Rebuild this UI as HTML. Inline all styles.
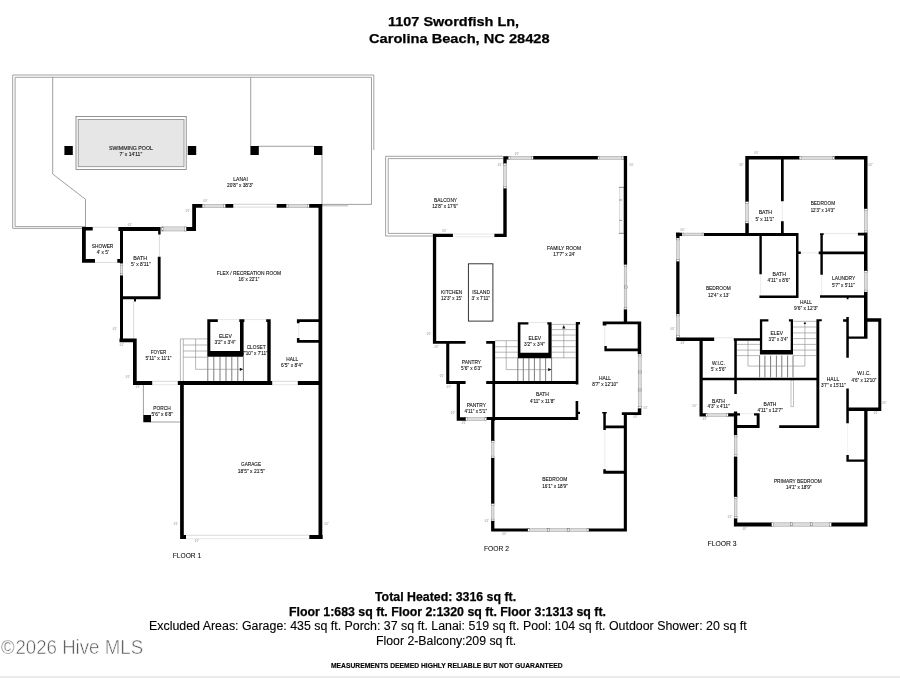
<!DOCTYPE html>
<html><head><meta charset="utf-8"><title>Floor plan</title>
<style>
html,body{margin:0;padding:0;background:#fff;}
body{width:900px;height:678px;position:relative;overflow:hidden;font-family:"Liberation Sans",sans-serif;color:#111;}
.t{will-change:transform;position:absolute;white-space:nowrap;line-height:1;transform-origin:0 0;}
.b{font-weight:bold;color:#000;-webkit-text-stroke:0.25px #000;}
.f{font-size:12.3px;}
.r{color:#000;-webkit-text-stroke:0.12px #000;}
</style></head><body>
<div class="t b" style="left:387.8px;top:14.6px;font-size:13.2px;transform:scaleX(1.0975);">1107 Swordfish Ln,</div>
<div class="t b" style="left:369.3px;top:32.1px;font-size:13.2px;transform:scaleX(1.110);">Carolina Beach, NC 28428</div>
<svg width="900" height="678" viewBox="0 0 900 678" style="position:absolute;left:0;top:0;will-change:transform">
<path d="M373.8 150V75H12.7V228.4H85.5" fill="none" stroke="#8c8c8c" stroke-width="0.8"/>
<path d="M371.5 204.4V77.3H15.1V226.6H85.5" fill="none" stroke="#8c8c8c" stroke-width="0.8"/>
<path d="M52.7 77.3V174L85.5 199.3V227" fill="none" stroke="#777" stroke-width="0.7"/>
<path d="M250.7 77.3V146" fill="none" stroke="#777" stroke-width="0.7"/>
<path d="M258 146.3H314" fill="none" stroke="#777" stroke-width="0.7"/>
<path d="M322 155V204.4H371.5" fill="none" stroke="#777" stroke-width="0.7"/>
<path d="M322 205.8H348" fill="none" stroke="#999" stroke-width="0.7"/>
<rect x="76" y="116.4" width="110.2" height="53.1" fill="#fff" stroke="#777" stroke-width="0.8"/>
<rect x="78.2" y="119.4" width="105.8" height="47.3" fill="#e6e6e6" stroke="#8a8a8a" stroke-width="0.8"/>
<path d="M180.4 381V338.9H207.3M183.3 381V338.9M183.3 345H207.3M183.3 351H207.3M183.3 357.2H207.3" fill="none" stroke="#888" stroke-width="0.6"/>
<path d="M207.8 357V381M213.8 357V381M220 357V381M226 357V381M231.8 357V381M237.8 357V381M243.4 357V381" fill="none" stroke="#444" stroke-width="0.7"/>
<path d="M195.6 339V369.3H241" fill="none" stroke="#888" stroke-width="0.6"/>
<path d="M239.8 367.7L243.2 369.3L239.8 370.9Z" fill="#111"/>
<path d="M503.3 156.3H385.6V236H433" fill="none" stroke="#8c8c8c" stroke-width="0.8"/>
<path d="M503.3 158.6H388.2V233.4H433" fill="none" stroke="#8c8c8c" stroke-width="0.8"/>
<rect x="619.4" y="187.3" width="4.4" height="46" fill="#f7f7f7" stroke="#c4c4c4" stroke-width="0.5"/>
<path d="M618.8 187.3H623.8M618.8 233.3H623.8M619.2 200H622M619.2 220.4H622" stroke="#555" stroke-width="0.6"/>
<rect x="468.4" y="263.8" width="24.5" height="57.3" fill="#fff" stroke="#222" stroke-width="0.9"/>
<path d="M551.6 324.4H575.6M551.6 329.6H575.6M551.6 335.1H575.6M551.6 340.7H575.6M551.6 346.7H575.6M551.6 352.2H575.6M551.6 357.8H575.6M495.1 340.7H517.8M495.1 346.7H517.8M495.1 352.2H517.8M495.1 357.8H517.8" fill="none" stroke="#888" stroke-width="0.6"/>
<path d="M517.8 358V381M523.3 358V381M528.9 358V381M534.4 358V381M540 358V381M545.6 358V381M551.6 358V381" fill="none" stroke="#444" stroke-width="0.7"/>
<path d="M506.2 340.7V369.6H549.5" fill="none" stroke="#888" stroke-width="0.6"/>
<path d="M548.2 368L551.6 369.6L548.2 371.2Z" fill="#111"/>
<path d="M563.8 358V327.5" fill="none" stroke="#888" stroke-width="0.6"/>
<path d="M562.2 328.4L563.8 325L565.4 328.4Z" fill="#111"/>
<rect x="791" y="380" width="2.6" height="26.8" fill="#fff" stroke="#999" stroke-width="0.6"/>
<path d="M793 321.3H816.4M793 327H816.4M793 332.9H816.4M793 338.6H816.4M793 344.4H816.4M793 350.1H816.4M793 355.6H816.4M736.8 344.4H759.9M736.8 350.1H759.9M736.8 355.6H759.9" fill="none" stroke="#888" stroke-width="0.6"/>
<path d="M759.6 355.6V377.3M764.9 355.6V377.3M770.6 355.6V377.3M776.4 355.6V377.3M781.8 355.6V377.3M787.6 355.6V377.3M793 355.6V377.3" fill="none" stroke="#444" stroke-width="0.7"/>
<path d="M748 340.5V366.1H804.9V325" fill="none" stroke="#888" stroke-width="0.6"/>
<circle cx="804.9" cy="323.3" r="1.1" fill="#111"/>
<line x1="92.7" y1="227.3" x2="118.4" y2="227.3" stroke="#ccc" stroke-width="0.7"/>
<line x1="95" y1="262.4" x2="117.3" y2="262.4" stroke="#ccc" stroke-width="0.7"/>
<line x1="233.3" y1="204.3" x2="276.7" y2="204.3" stroke="#bbb" stroke-width="0.7"/>
<line x1="233.3" y1="207.1" x2="276.7" y2="207.1" stroke="#ccc" stroke-width="0.7"/>
<line x1="159.4" y1="234.4" x2="159.4" y2="256.7" stroke="#ccc" stroke-width="0.7"/>
<line x1="133.6" y1="301.5" x2="133.6" y2="338" stroke="#ccc" stroke-width="0.7"/>
<line x1="152.2" y1="381.3" x2="177.8" y2="381.3" stroke="#ccc" stroke-width="0.7"/>
<line x1="152.2" y1="384.7" x2="177.8" y2="384.7" stroke="#ddd" stroke-width="0.7"/>
<line x1="272.2" y1="381.3" x2="297.8" y2="381.3" stroke="#ccc" stroke-width="0.7"/>
<line x1="272.2" y1="384.7" x2="297.8" y2="384.7" stroke="#ddd" stroke-width="0.7"/>
<line x1="186" y1="535.3" x2="309.3" y2="535.3" stroke="#ccc" stroke-width="0.7"/>
<line x1="186" y1="538.7" x2="309.3" y2="538.7" stroke="#ddd" stroke-width="0.7"/>
<line x1="217.8" y1="319.6" x2="239.3" y2="319.6" stroke="#ddd" stroke-width="0.7"/>
<line x1="244.4" y1="319.6" x2="266.2" y2="319.6" stroke="#ddd" stroke-width="0.7"/>
<line x1="298.7" y1="323.2" x2="298.7" y2="338" stroke="#ddd" stroke-width="0.7"/>
<line x1="143.4" y1="385" x2="143.4" y2="415" stroke="#777" stroke-width="0.7"/>
<line x1="151" y1="422" x2="179.8" y2="422" stroke="#777" stroke-width="0.7"/>
<line x1="452.9" y1="234.1" x2="494.4" y2="234.1" stroke="#ddd" stroke-width="0.7"/>
<line x1="452.9" y1="236.8" x2="494.4" y2="236.8" stroke="#ddd" stroke-width="0.7"/>
<line x1="604.8" y1="325.6" x2="604.8" y2="346" stroke="#ddd" stroke-width="0.7"/>
<line x1="528.4" y1="322.5" x2="547.3" y2="322.5" stroke="#ddd" stroke-width="0.7"/>
<line x1="604.8" y1="430" x2="604.8" y2="470" stroke="#e2e2e2" stroke-width="0.7"/>
<line x1="782.4" y1="201.3" x2="782.4" y2="221.3" stroke="#e4e4e4" stroke-width="0.7"/>
<line x1="714.2" y1="337.8" x2="733.8" y2="337.8" stroke="#ddd" stroke-width="0.7"/>
<line x1="760.6" y1="274.2" x2="760.6" y2="295.2" stroke="#e4e4e4" stroke-width="0.7"/>
<line x1="800.8" y1="252.8" x2="818.7" y2="252.8" stroke="#e4e4e4" stroke-width="0.7"/>
<line x1="821.6" y1="274.7" x2="821.6" y2="295" stroke="#e4e4e4" stroke-width="0.7"/>
<line x1="823.2" y1="233.6" x2="857.9" y2="233.6" stroke="#ddd" stroke-width="0.7"/>
<line x1="740" y1="413.7" x2="754" y2="413.7" stroke="#e4e4e4" stroke-width="0.7"/>
<line x1="847.6" y1="423.5" x2="847.6" y2="455" stroke="#ececec" stroke-width="0.7"/>
<rect x="161.8" y="226.9" width="24.6" height="4.1" fill="#dddddd" stroke="#9a9a9a" stroke-width="0.5"/>
<rect x="161.8" y="226.9" width="1.9" height="4.1" fill="#fff" stroke="#777" stroke-width="0.45"/>
<rect x="184.5" y="226.9" width="1.9" height="4.1" fill="#fff" stroke="#777" stroke-width="0.45"/>
<rect x="202.2" y="204.4" width="23.3" height="3.1" fill="#dddddd" stroke="#9a9a9a" stroke-width="0.5"/>
<rect x="202.2" y="204.4" width="1.9" height="3.1" fill="#fff" stroke="#777" stroke-width="0.45"/>
<rect x="223.6" y="204.4" width="1.9" height="3.1" fill="#fff" stroke="#777" stroke-width="0.45"/>
<rect x="286.2" y="204.4" width="23.1" height="3.1" fill="#dddddd" stroke="#9a9a9a" stroke-width="0.5"/>
<rect x="286.2" y="204.4" width="1.9" height="3.1" fill="#fff" stroke="#777" stroke-width="0.45"/>
<rect x="307.4" y="204.4" width="1.9" height="3.1" fill="#fff" stroke="#777" stroke-width="0.45"/>
<rect x="120.3" y="263.3" width="2.4" height="12.2" fill="#dddddd" stroke="#9a9a9a" stroke-width="0.5"/>
<rect x="120.3" y="263.3" width="2.4" height="1.9" fill="#fff" stroke="#777" stroke-width="0.45"/>
<rect x="120.3" y="273.6" width="2.4" height="1.9" fill="#fff" stroke="#777" stroke-width="0.45"/>
<rect x="503.6" y="163.3" width="2.8" height="25.1" fill="#dddddd" stroke="#9a9a9a" stroke-width="0.5"/>
<rect x="503.6" y="163.3" width="2.8" height="1.9" fill="#fff" stroke="#777" stroke-width="0.45"/>
<rect x="503.6" y="186.5" width="2.8" height="1.9" fill="#fff" stroke="#777" stroke-width="0.45"/>
<rect x="508.2" y="156.4" width="25.1" height="3.0" fill="#dddddd" stroke="#9a9a9a" stroke-width="0.5"/>
<rect x="508.2" y="156.4" width="1.9" height="3.0" fill="#fff" stroke="#777" stroke-width="0.45"/>
<rect x="531.4" y="156.4" width="1.9" height="3.0" fill="#fff" stroke="#777" stroke-width="0.45"/>
<rect x="597.8" y="156.3" width="26.0" height="3.0" fill="#dddddd" stroke="#9a9a9a" stroke-width="0.5"/>
<rect x="597.8" y="156.3" width="1.9" height="3.0" fill="#fff" stroke="#777" stroke-width="0.45"/>
<rect x="621.9" y="156.3" width="1.9" height="3.0" fill="#fff" stroke="#777" stroke-width="0.45"/>
<rect x="624.2" y="264.4" width="2.6" height="45.2" fill="#dddddd" stroke="#9a9a9a" stroke-width="0.5"/>
<rect x="624.2" y="264.4" width="2.6" height="1.9" fill="#fff" stroke="#777" stroke-width="0.45"/>
<rect x="624.2" y="307.7" width="2.6" height="1.9" fill="#fff" stroke="#777" stroke-width="0.45"/>
<rect x="465.6" y="417.5" width="21.1" height="3.0" fill="#dddddd" stroke="#9a9a9a" stroke-width="0.5"/>
<rect x="465.6" y="417.5" width="1.9" height="3.0" fill="#fff" stroke="#777" stroke-width="0.45"/>
<rect x="484.8" y="417.5" width="1.9" height="3.0" fill="#fff" stroke="#777" stroke-width="0.45"/>
<rect x="491.5" y="440.7" width="2.5" height="17.3" fill="#dddddd" stroke="#9a9a9a" stroke-width="0.5"/>
<rect x="491.5" y="440.7" width="2.5" height="1.9" fill="#fff" stroke="#777" stroke-width="0.45"/>
<rect x="491.5" y="456.1" width="2.5" height="1.9" fill="#fff" stroke="#777" stroke-width="0.45"/>
<rect x="491.5" y="503.5" width="2.5" height="17.5" fill="#dddddd" stroke="#9a9a9a" stroke-width="0.5"/>
<rect x="491.5" y="503.5" width="2.5" height="1.9" fill="#fff" stroke="#777" stroke-width="0.45"/>
<rect x="491.5" y="519.1" width="2.5" height="1.9" fill="#fff" stroke="#777" stroke-width="0.45"/>
<rect x="527.8" y="528.6" width="61.1" height="2.8" fill="#dddddd" stroke="#9a9a9a" stroke-width="0.5"/>
<rect x="527.8" y="528.6" width="1.9" height="2.8" fill="#fff" stroke="#777" stroke-width="0.45"/>
<rect x="587.0" y="528.6" width="1.9" height="2.8" fill="#fff" stroke="#777" stroke-width="0.45"/>
<rect x="638.2" y="354" width="3.0" height="54.5" fill="#dddddd" stroke="#9a9a9a" stroke-width="0.5"/>
<rect x="638.2" y="354" width="3.0" height="1.9" fill="#fff" stroke="#777" stroke-width="0.45"/>
<rect x="638.2" y="406.6" width="3.0" height="1.9" fill="#fff" stroke="#777" stroke-width="0.45"/>
<rect x="799.2" y="156.3" width="35.5" height="3.0" fill="#dddddd" stroke="#9a9a9a" stroke-width="0.5"/>
<rect x="799.2" y="156.3" width="1.9" height="3.0" fill="#fff" stroke="#777" stroke-width="0.45"/>
<rect x="832.8" y="156.3" width="1.9" height="3.0" fill="#fff" stroke="#777" stroke-width="0.45"/>
<rect x="745.7" y="201.5" width="2.7" height="21.8" fill="#dddddd" stroke="#9a9a9a" stroke-width="0.5"/>
<rect x="745.7" y="201.5" width="2.7" height="1.9" fill="#fff" stroke="#777" stroke-width="0.45"/>
<rect x="745.7" y="221.4" width="2.7" height="1.9" fill="#fff" stroke="#777" stroke-width="0.45"/>
<rect x="864.4" y="208.8" width="2.8" height="24.0" fill="#dddddd" stroke="#9a9a9a" stroke-width="0.5"/>
<rect x="864.4" y="208.8" width="2.8" height="1.9" fill="#fff" stroke="#777" stroke-width="0.45"/>
<rect x="864.4" y="230.9" width="2.8" height="1.9" fill="#fff" stroke="#777" stroke-width="0.45"/>
<rect x="864.4" y="270.7" width="2.8" height="21.3" fill="#dddddd" stroke="#9a9a9a" stroke-width="0.5"/>
<rect x="864.4" y="270.7" width="2.8" height="1.9" fill="#fff" stroke="#777" stroke-width="0.45"/>
<rect x="864.4" y="290.1" width="2.8" height="1.9" fill="#fff" stroke="#777" stroke-width="0.45"/>
<rect x="682" y="233.1" width="22" height="2.6" fill="#dddddd" stroke="#9a9a9a" stroke-width="0.5"/>
<rect x="682" y="233.1" width="1.9" height="2.6" fill="#fff" stroke="#777" stroke-width="0.45"/>
<rect x="702.1" y="233.1" width="1.9" height="2.6" fill="#fff" stroke="#777" stroke-width="0.45"/>
<rect x="676.6" y="238" width="2.6" height="23.5" fill="#dddddd" stroke="#9a9a9a" stroke-width="0.5"/>
<rect x="676.6" y="238" width="2.6" height="1.9" fill="#fff" stroke="#777" stroke-width="0.45"/>
<rect x="676.6" y="259.6" width="2.6" height="1.9" fill="#fff" stroke="#777" stroke-width="0.45"/>
<rect x="676.6" y="314" width="2.6" height="23.3" fill="#dddddd" stroke="#9a9a9a" stroke-width="0.5"/>
<rect x="676.6" y="314" width="2.6" height="1.9" fill="#fff" stroke="#777" stroke-width="0.45"/>
<rect x="676.6" y="335.4" width="2.6" height="1.9" fill="#fff" stroke="#777" stroke-width="0.45"/>
<rect x="705.8" y="413.5" width="22.4" height="2.8" fill="#dddddd" stroke="#9a9a9a" stroke-width="0.5"/>
<rect x="705.8" y="413.5" width="1.9" height="2.8" fill="#fff" stroke="#777" stroke-width="0.45"/>
<rect x="726.3" y="413.5" width="1.9" height="2.8" fill="#fff" stroke="#777" stroke-width="0.45"/>
<rect x="734.3" y="435" width="2.7" height="21.7" fill="#dddddd" stroke="#9a9a9a" stroke-width="0.5"/>
<rect x="734.3" y="435" width="2.7" height="1.9" fill="#fff" stroke="#777" stroke-width="0.45"/>
<rect x="734.3" y="454.8" width="2.7" height="1.9" fill="#fff" stroke="#777" stroke-width="0.45"/>
<rect x="734.3" y="496.7" width="2.7" height="21.8" fill="#dddddd" stroke="#9a9a9a" stroke-width="0.5"/>
<rect x="734.3" y="496.7" width="2.7" height="1.9" fill="#fff" stroke="#777" stroke-width="0.45"/>
<rect x="734.3" y="516.6" width="2.7" height="1.9" fill="#fff" stroke="#777" stroke-width="0.45"/>
<rect x="771.5" y="522.8" width="60.0" height="3.4" fill="#dddddd" stroke="#9a9a9a" stroke-width="0.5"/>
<rect x="771.5" y="522.8" width="1.9" height="3.4" fill="#fff" stroke="#777" stroke-width="0.45"/>
<rect x="829.6" y="522.8" width="1.9" height="3.4" fill="#fff" stroke="#777" stroke-width="0.45"/>
<rect x="638.2" y="371" width="3" height="2" fill="#eee" stroke="#666" stroke-width="0.45"/>
<rect x="638.2" y="389" width="3" height="2" fill="#eee" stroke="#666" stroke-width="0.45"/>
<rect x="624.2" y="286" width="3" height="2" fill="#eee" stroke="#666" stroke-width="0.45"/>
<rect x="547.2" y="528.6" width="2" height="3" fill="#eee" stroke="#666" stroke-width="0.45"/>
<rect x="567.2" y="528.6" width="2" height="3" fill="#eee" stroke="#666" stroke-width="0.45"/>
<rect x="790.5" y="522.8" width="2" height="3" fill="#eee" stroke="#666" stroke-width="0.45"/>
<rect x="810.5" y="522.8" width="2" height="3" fill="#eee" stroke="#666" stroke-width="0.45"/>
<path fill="#000" d="M64.4 146H72.80000000000001V155H64.4ZM187.8 146H196.20000000000002V155H187.8ZM250.4 146H258.8V155H250.4ZM314 146H322.4V155H314ZM82 227H85.8V262.7H82ZM82 227H92.7V230.5H82ZM82 259H95V262.7H82ZM117.3 259H123V262.7H117.3ZM118.4 227H160.4V231H118.4ZM186.4 227H196V231H186.4ZM192.2 204H196V231H192.2ZM192.2 204H202.2V207.7H192.2ZM225.5 204H233.3V207.7H225.5ZM276.7 204H286.2V207.7H276.7ZM309.3 204H322.3V207.7H309.3ZM318.5 204H322.3V539H318.5ZM120 227H123V263.3H120ZM120 275.5H123V342.2H120ZM158.2 227H160.6V234.4H158.2ZM157.8 256.7H160.6V299.3H157.8ZM120 296.2H160.6V299.3H120ZM134 299.3H136V301.5H134ZM119.5 338.4H136.7V342.2H119.5ZM133 338.4H136.7V385H133ZM133 381H152.2V385H133ZM177.8 381H272.2V385H177.8ZM297.8 381H322.3V385H297.8ZM180.1 381H183.8V539H180.1ZM180.1 535H186V539H180.1ZM309.3 535H322.7V539H309.3ZM207.3 319.3H210.3V356.7H207.3ZM207.3 319.3H217.8V322H207.3ZM240 319.3H243.6V356.7H240ZM239.3 319.3H244.4V322H239.3ZM207.3 351H243.6V356.7H207.3ZM266.2 319.3H270.7V322H266.2ZM267.3 319.3H270.7V385H267.3ZM296.9 319.2H319V321.9H296.9ZM296.9 340H319V342.7H296.9ZM296.9 319.2H299.5V323.2H296.9ZM296.9 338H299.5V342.7H296.9ZM143.3 415H151V422.2H143.3ZM503.3 156.2H506.7V163.3H503.3ZM503.3 188.4H506.7V237.1H503.3ZM503.3 156.2H508.2V159.6H503.3ZM533.3 156H597.8V159.6H533.3ZM623.8 156H627.1V264.4H623.8ZM623.8 309.6H627.1V323H623.8ZM432.9 233.8H452.9V237.1H432.9ZM494.4 233.8H506.7V237.1H494.4ZM432.9 233.8H436.2V343.3H432.9ZM432.9 341H465.6V343.7H432.9ZM486.2 341H495.1V343.7H486.2ZM446.2 341H449.3V384H446.2ZM446.2 381.1H465.6V384H446.2ZM486.2 381.1H578.2V384H486.2ZM492.4 341H495.1V420.7H492.4ZM456.7 383H460V420.7H456.7ZM456.7 417.3H465.6V420.7H456.7ZM486.7 417H578.2V419.9H486.7ZM491.1 417H494.4V440.7H491.1ZM491.1 458H494.4V503.5H491.1ZM491.1 521H494.4V531.6H491.1ZM491.1 528.4H527.8V531.6H491.1ZM588.9 528.4H626.9V531.6H588.9ZM623.8 412.5H626.9V531.6H623.8ZM621.8 412.2H641.3V415.1H621.8ZM637.8 408.5H641.3V415.1H637.8ZM602.7 321.4H641.2V324.2H602.7ZM637.7 321.4H641.2V354H637.7ZM604.4 348.6H641.2V351.2H604.4ZM602.7 321.4H606.4V325.6H602.7ZM604.4 346H606.8V351.2H604.4ZM517.8 322.2H520.4V358H517.8ZM517.8 322.2H528.4V324.6H517.8ZM548.4 322.2H551.6V358H548.4ZM547.3 322.2H551.6V324.6H547.3ZM517.8 352.7H551.6V358.2H517.8ZM575.8 322.2H578.4V384.4H575.8ZM575.8 322H580V324.4H575.8ZM575.6 401H578.2V419.9H575.6ZM578 411.8H580V414H578ZM603.3 412.2H605.8V430H603.3ZM602.2 412H606.7V413.5H602.2ZM603.3 425.6H624V428.2H603.3ZM603.3 470.8H624V473.7H603.3ZM603.3 469.2H605.8V473.7H603.3ZM745.3 156H799.2V159.5H745.3ZM834.7 156H867.5V159.5H834.7ZM745.3 156H748.8V201.5H745.3ZM745.3 223.3H748.8V236H745.3ZM864 156H867.5V208.8H864ZM864 232.8H867.5V270.7H864ZM864 292H867.5V338.8H864ZM781 159.5H783.7V201.3H781ZM781 221.3H783.7V236H781ZM676 232.8H682V236H676ZM704 233H798.5V236H704ZM676.2 232.5H679.5V238H676.2ZM676.2 261.5H679.5V314H676.2ZM676.2 337.5H714.2V341H676.2ZM733.8 338.3H760.4V340.7H733.8ZM759.4 235H761.8V274.2H759.4ZM759.4 295.5H798.5V298H759.4ZM796 233H798.5V298H796ZM798.5 251.6H800.8V254.1H798.5ZM818.7 251.6H865.3V254.2H818.7ZM820.4 233.3H822.8V274.7H820.4ZM820 233.3H823.7V235H820ZM820 295.2H867.5V297.7H820ZM857.9 232.8H867.5V235.5H857.9ZM846.7 297.5H848.5V299.3H846.7ZM699.5 340H702.7V416.5H699.5ZM734.3 338.3H736.8V394H734.3ZM699.5 377.8H818.2V380.2H699.5ZM759.9 319.2H762.2V354.6H759.9ZM759.9 319.2H768.4V321.6H759.9ZM790.7 319.2H793V354.6H790.7ZM788.9 319.2H793V321.6H788.9ZM759.9 350.1H793V354.6H759.9ZM816.4 319.2H819.3V428H816.4ZM816.4 319.2H821.8V321.3H816.4ZM846.3 317H848.8V357.8H846.3ZM843.1 319.2H848.8V321.7H843.1ZM846.3 388.5H848.8V423.3H846.3ZM848.8 336.4H866.6V338.8H848.8ZM866.6 318.3H881.3V321.7H866.6ZM878.3 318.3H881.3V411.1H878.3ZM846.3 407.6H881.3V411.1H846.3ZM864.2 410H867.5V526.5H864.2ZM699.5 413.2H705.8V416.5H699.5ZM728.2 413.2H737.3V416.5H728.2ZM733.9 411.5H737.2V435H733.9ZM733.9 456.7H737.3V496.7H733.9ZM733.9 518.5H737.3V526.5H733.9ZM733.9 425H759.6V428H733.9ZM756.7 413.3H759.6V428H756.7ZM754 413.3H759.6V415.6H754ZM737 413.3H740V415.6H737ZM779.2 425.2H819.3V428H779.2ZM733.9 522.5H771.5V526.5H733.9ZM831.5 522.5H867.5V526.5H831.5ZM846.4 455H848.8V461.8H846.4ZM846.4 459.5H864.2V461.8H846.4Z"/>
<g font-family="Liberation Sans, sans-serif" fill="#111" stroke="#111" stroke-width="0.1">
<text x="108.9" y="149.6" font-size="5.2" textLength="44.0" lengthAdjust="spacingAndGlyphs">SWIMMING POOL</text>
<text x="119.6" y="156.1" font-size="4.7" textLength="22.6" lengthAdjust="spacingAndGlyphs">7' x 14'11&quot;</text>
<text x="233.3" y="180.7" font-size="5.2" textLength="14.5" lengthAdjust="spacingAndGlyphs">LANAI</text>
<text x="227.1" y="187.0" font-size="4.7" textLength="26.2" lengthAdjust="spacingAndGlyphs">20'8&quot; x 38'3&quot;</text>
<text x="91.8" y="247.8" font-size="5.2" textLength="21.5" lengthAdjust="spacingAndGlyphs">SHOWER</text>
<text x="96.7" y="253.9" font-size="4.7" textLength="12.2" lengthAdjust="spacingAndGlyphs">4' x 5'</text>
<text x="133.3" y="259.8" font-size="5.2" textLength="13.8" lengthAdjust="spacingAndGlyphs">BATH</text>
<text x="131.1" y="266.1" font-size="4.7" textLength="19.6" lengthAdjust="spacingAndGlyphs">5' x 8'11&quot;</text>
<text x="216.7" y="274.5" font-size="5.2" textLength="64.4" lengthAdjust="spacingAndGlyphs">FLEX / RECREATION ROOM</text>
<text x="238.4" y="280.5" font-size="4.7" textLength="20.9" lengthAdjust="spacingAndGlyphs">16' x 22'1&quot;</text>
<text x="150.7" y="354.0" font-size="5.2" textLength="15.5" lengthAdjust="spacingAndGlyphs">FOYER</text>
<text x="145.6" y="360.3" font-size="4.7" textLength="26.0" lengthAdjust="spacingAndGlyphs">5'11&quot; x 11'1&quot;</text>
<text x="218.9" y="337.8" font-size="5.2" textLength="12.9" lengthAdjust="spacingAndGlyphs">ELEV</text>
<text x="214.4" y="343.7" font-size="4.7" textLength="21.2" lengthAdjust="spacingAndGlyphs">3'2&quot; x 3'4&quot;</text>
<text x="246.7" y="348.7" font-size="5.2" textLength="18.9" lengthAdjust="spacingAndGlyphs">CLOSET</text>
<text x="242.2" y="354.5" font-size="4.7" textLength="25.6" lengthAdjust="spacingAndGlyphs">7'10&quot; x 7'11&quot;</text>
<text x="286.2" y="360.7" font-size="5.2" textLength="12.0" lengthAdjust="spacingAndGlyphs">HALL</text>
<text x="281.1" y="367.0" font-size="4.7" textLength="21.6" lengthAdjust="spacingAndGlyphs">6'5&quot; x 8'4&quot;</text>
<text x="153.3" y="409.8" font-size="5.2" textLength="17.4" lengthAdjust="spacingAndGlyphs">PORCH</text>
<text x="151.6" y="416.3" font-size="4.7" textLength="21.3" lengthAdjust="spacingAndGlyphs">5'6&quot; x 6'8&quot;</text>
<text x="241.1" y="466.0" font-size="5.2" textLength="20.0" lengthAdjust="spacingAndGlyphs">GARAGE</text>
<text x="237.8" y="472.5" font-size="4.7" textLength="27.1" lengthAdjust="spacingAndGlyphs">18'5&quot; x 21'5&quot;</text>
<text x="172.7" y="557.6" font-size="7.8" textLength="28.5" lengthAdjust="spacingAndGlyphs">FLOOR 1</text>
<text x="434" y="201.8" font-size="5.2" textLength="23.1" lengthAdjust="spacingAndGlyphs">BALCONY</text>
<text x="432.2" y="208.1" font-size="4.7" textLength="25.6" lengthAdjust="spacingAndGlyphs">12'8&quot; x 17'6&quot;</text>
<text x="547.1" y="250.0" font-size="5.2" textLength="34.0" lengthAdjust="spacingAndGlyphs">FAMILY ROOM</text>
<text x="553.3" y="256.3" font-size="4.7" textLength="21.8" lengthAdjust="spacingAndGlyphs">17'7&quot; x 24'</text>
<text x="441.1" y="294.3" font-size="5.2" textLength="21.1" lengthAdjust="spacingAndGlyphs">KITCHEN</text>
<text x="441.1" y="299.9" font-size="4.7" textLength="20.7" lengthAdjust="spacingAndGlyphs">12'3&quot; x 15'</text>
<text x="472.2" y="294.3" font-size="5.2" textLength="17.8" lengthAdjust="spacingAndGlyphs">ISLAND</text>
<text x="471.6" y="299.9" font-size="4.7" textLength="18.4" lengthAdjust="spacingAndGlyphs">3' x 7'11&quot;</text>
<text x="528.4" y="340.0" font-size="5.2" textLength="12.7" lengthAdjust="spacingAndGlyphs">ELEV</text>
<text x="524" y="346.1" font-size="4.7" textLength="20.9" lengthAdjust="spacingAndGlyphs">3'2&quot; x 3'4&quot;</text>
<text x="461.8" y="363.8" font-size="5.2" textLength="19.3" lengthAdjust="spacingAndGlyphs">PANTRY</text>
<text x="461.1" y="369.9" font-size="4.7" textLength="20.7" lengthAdjust="spacingAndGlyphs">5'6&quot; x 6'3&quot;</text>
<text x="536" y="396.0" font-size="5.2" textLength="12.9" lengthAdjust="spacingAndGlyphs">BATH</text>
<text x="530" y="402.8" font-size="4.7" textLength="24.9" lengthAdjust="spacingAndGlyphs">4'11&quot; x 11'8&quot;</text>
<text x="466.7" y="406.5" font-size="5.2" textLength="19.3" lengthAdjust="spacingAndGlyphs">PANTRY</text>
<text x="464.4" y="412.5" font-size="4.7" textLength="22.7" lengthAdjust="spacingAndGlyphs">4'11&quot; x 5'1&quot;</text>
<text x="598.9" y="380.0" font-size="5.2" textLength="12.2" lengthAdjust="spacingAndGlyphs">HALL</text>
<text x="592.2" y="385.9" font-size="4.7" textLength="25.6" lengthAdjust="spacingAndGlyphs">8'7&quot; x 12'10&quot;</text>
<text x="542.2" y="481.2" font-size="5.2" textLength="25.1" lengthAdjust="spacingAndGlyphs">BEDROOM</text>
<text x="542.2" y="487.7" font-size="4.7" textLength="25.6" lengthAdjust="spacingAndGlyphs">16'1&quot; x 18'9&quot;</text>
<text x="484" y="550.6" font-size="7.8" textLength="25" lengthAdjust="spacingAndGlyphs">FOOR 2</text>
<text x="758.7" y="214.1" font-size="5.2" textLength="13.3" lengthAdjust="spacingAndGlyphs">BATH</text>
<text x="755.5" y="220.8" font-size="4.7" textLength="18.6" lengthAdjust="spacingAndGlyphs">5' x 11'1&quot;</text>
<text x="810.7" y="205.1" font-size="5.2" textLength="24.5" lengthAdjust="spacingAndGlyphs">BEDROOM</text>
<text x="810.7" y="212.0" font-size="4.7" textLength="24.0" lengthAdjust="spacingAndGlyphs">12'3&quot; x 14'3&quot;</text>
<text x="772.5" y="275.5" font-size="5.2" textLength="13.4" lengthAdjust="spacingAndGlyphs">BATH</text>
<text x="767.5" y="281.8" font-size="4.7" textLength="22.6" lengthAdjust="spacingAndGlyphs">4'11&quot; x 8'6&quot;</text>
<text x="832" y="280.3" font-size="5.2" textLength="23.2" lengthAdjust="spacingAndGlyphs">LAUNDRY</text>
<text x="832" y="286.9" font-size="4.7" textLength="22.7" lengthAdjust="spacingAndGlyphs">5'7&quot; x 5'11&quot;</text>
<text x="705.9" y="290.4" font-size="5.2" textLength="24.8" lengthAdjust="spacingAndGlyphs">BEDROOM</text>
<text x="708" y="296.8" font-size="4.7" textLength="21.3" lengthAdjust="spacingAndGlyphs">12'4&quot; x 13'</text>
<text x="800" y="303.5" font-size="5.2" textLength="12" lengthAdjust="spacingAndGlyphs">HALL</text>
<text x="794.1" y="310.1" font-size="4.7" textLength="24.0" lengthAdjust="spacingAndGlyphs">9'6&quot; x 12'3&quot;</text>
<text x="770.6" y="335.4" font-size="5.2" textLength="12.4" lengthAdjust="spacingAndGlyphs">ELEV</text>
<text x="768.4" y="341.2" font-size="4.7" textLength="19.6" lengthAdjust="spacingAndGlyphs">3'2&quot; x 3'4&quot;</text>
<text x="711.9" y="364.7" font-size="5.2" textLength="13.0" lengthAdjust="spacingAndGlyphs">W.I.C.</text>
<text x="711" y="371.1" font-size="4.7" textLength="15.1" lengthAdjust="spacingAndGlyphs">5' x 5'6&quot;</text>
<text x="712.1" y="402.6" font-size="5.2" textLength="12.8" lengthAdjust="spacingAndGlyphs">BATH</text>
<text x="707.6" y="408.4" font-size="4.7" textLength="22.1" lengthAdjust="spacingAndGlyphs">4'3&quot; x 4'11&quot;</text>
<text x="763.6" y="406.0" font-size="5.2" textLength="12.8" lengthAdjust="spacingAndGlyphs">BATH</text>
<text x="757.4" y="412.0" font-size="4.7" textLength="25.3" lengthAdjust="spacingAndGlyphs">4'11&quot; x 12'7&quot;</text>
<text x="826.8" y="380.7" font-size="5.2" textLength="12.4" lengthAdjust="spacingAndGlyphs">HALL</text>
<text x="820.9" y="387.1" font-size="4.7" textLength="24.9" lengthAdjust="spacingAndGlyphs">3'7&quot; x 15'11&quot;</text>
<text x="857.3" y="375.4" font-size="5.2" textLength="13.4" lengthAdjust="spacingAndGlyphs">W.I.C.</text>
<text x="851.6" y="381.6" font-size="4.7" textLength="24.9" lengthAdjust="spacingAndGlyphs">4'6&quot; x 12'10&quot;</text>
<text x="773.9" y="482.8" font-size="5.2" textLength="48.0" lengthAdjust="spacingAndGlyphs">PRIMARY BEDROOM</text>
<text x="785.9" y="489.4" font-size="4.7" textLength="25.6" lengthAdjust="spacingAndGlyphs">14'1&quot; x 18'9&quot;</text>
<text x="707.5" y="545.9" font-size="7.8" textLength="29.0" lengthAdjust="spacingAndGlyphs">FLOOR 3</text>
</g>
<g font-family="Liberation Sans, sans-serif" font-size="2.6" fill="#8a8a8a" text-anchor="middle">
<text x="205.5" y="201.9">0'0&quot;</text>
<text x="188" y="211.9">0'0&quot;</text>
<text x="130" y="225.5">0'0&quot;</text>
<text x="115" y="329.9">0'0&quot;</text>
<text x="122" y="345.9">0'0&quot;</text>
<text x="128" y="377.9">0'0&quot;</text>
<text x="138" y="387.9">0'0&quot;</text>
<text x="176" y="525.3">0'0&quot;</text>
<text x="326.7" y="525.3">0'0&quot;</text>
<text x="197" y="541.9">0'0&quot;</text>
<text x="444.4" y="231.9">0'0&quot;</text>
<text x="517" y="154.7">0'0&quot;</text>
<text x="500" y="165.9">0'0&quot;</text>
<text x="631.6" y="165.9">0'0&quot;</text>
<text x="429" y="334.7">0'0&quot;</text>
<text x="436.7" y="347.6">0'0&quot;</text>
<text x="442" y="376.9">0'0&quot;</text>
<text x="449" y="387.6">0'0&quot;</text>
<text x="453" y="413.9">0'0&quot;</text>
<text x="464" y="423.9">0'0&quot;</text>
<text x="487" y="521.9">0'0&quot;</text>
<text x="504.4" y="534.7">0'0&quot;</text>
<text x="645.6" y="408.7">0'0&quot;</text>
<text x="635.6" y="418.2">0'0&quot;</text>
<text x="672.7" y="329.9">0'0&quot;</text>
<text x="683" y="343.9">0'0&quot;</text>
<text x="756.5" y="154.2">0'0&quot;</text>
<text x="741.3" y="165.7">0'0&quot;</text>
<text x="870.7" y="165.7">0'0&quot;</text>
<text x="682.7" y="230.9">0'0&quot;</text>
<text x="694.7" y="406.9">0'0&quot;</text>
<text x="705" y="419.7">0'0&quot;</text>
<text x="884.5" y="404.2">0'0&quot;</text>
<text x="876" y="413.9">0'0&quot;</text>
<text x="730" y="517.6">0'0&quot;</text>
<text x="744.8" y="529.6">0'0&quot;</text>
</g>
</svg>
<div class="t b f" style="left:375.2px;top:590.6px;transform:scaleX(1.004);">Total Heated: 3316 sq ft.</div>
<div class="t b f" style="left:289px;top:605.6px;transform:scaleX(1.004);">Floor 1:683 sq ft. Floor 2:1320 sq ft. Floor 3:1313 sq ft.</div>
<div class="t f r" style="left:149px;top:620.3px;transform:scaleX(1.0073);">Excluded Areas: Garage: 435 sq ft. Porch: 37 sq ft. Lanai: 519 sq ft. Pool: 104 sq ft. Outdoor Shower: 20 sq ft</div>
<div class="t f r" style="left:376px;top:635.1px;">Floor 2-Balcony:209 sq ft.</div>
<div class="t b" style="left:330.7px;top:662.9px;font-size:6.73px;transform:scaleX(1.004);-webkit-text-stroke:0.15px #000;">MEASUREMENTS DEEMED HIGHLY RELIABLE BUT NOT GUARANTEED</div>
<svg width="160" height="30" style="position:absolute;left:0;top:632px;"><g font-family="Liberation Sans, sans-serif" font-size="19.6"><text x="0.9" y="21.9" textLength="13.6" lengthAdjust="spacingAndGlyphs" fill="#666" stroke="#fff" stroke-width="0.35" paint-order="fill stroke">©</text><text x="15.4" y="21.9" textLength="127.7" lengthAdjust="spacingAndGlyphs" fill="#585858" stroke="#fff" stroke-width="0.55" paint-order="fill stroke">2026 Hive MLS</text></g></svg>
<div style="position:absolute;left:0;top:675.8px;width:900px;height:2.2px;background:#ebebeb;"></div>
</body></html>
